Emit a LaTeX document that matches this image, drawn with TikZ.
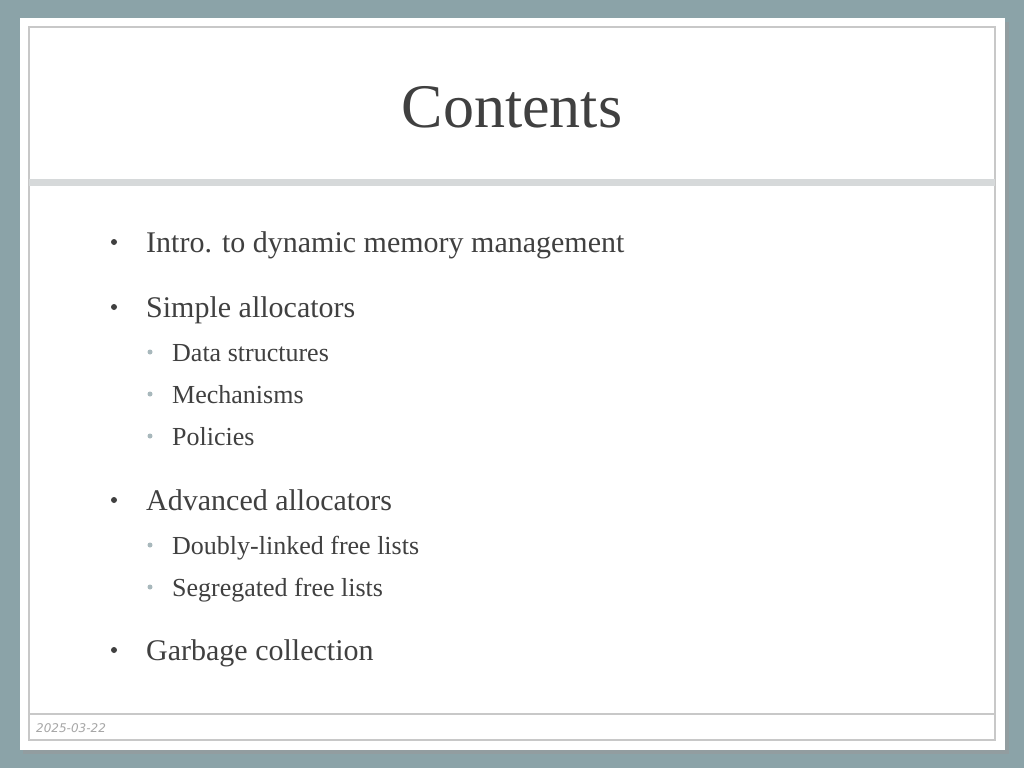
\documentclass[tikz,border=0pt]{standalone}
\usepackage{fontspec}
\setmainfont{Liberation Serif}
\newfontfamily\datefont{DejaVu Sans}
\definecolor{bg}{HTML}{8BA3A8}
\definecolor{txt}{HTML}{404040}
\definecolor{frame}{HTML}{C8C8C8}
\definecolor{band}{HTML}{D6D9DA}
\definecolor{subb}{HTML}{A8B8BC}
\tikzset{
 main/.style={anchor=base west,text=txt,font=\fontsize{30}{36}\selectfont,inner sep=0},
 sub/.style={anchor=base west,text=txt,font=\fontsize{26}{31}\selectfont,inner sep=0},
 dot/.style={circle,fill=txt,inner sep=0,minimum size=6pt},
 sdot/.style={circle,fill=subb,inner sep=0,minimum size=5pt}
}
\begin{document}
\begin{tikzpicture}[x=1pt,y=-1pt]
\fill[bg] (0,0) rectangle (1024,768);
\useasboundingbox (0,0) rectangle (1024,768);
\fill[black!40,opacity=0.5] (23,22) rectangle (1009,754);
\fill[white] (20,18) rectangle (1005,750);
\draw[frame,line width=1.2pt] (29,27) rectangle (995,740);
\fill[band] (29,179) rectangle (995,186);
\draw[frame,line width=1.2pt] (29,714) -- (995,714);
\node[text=txt,font=\fontsize{62}{70}\selectfont,anchor=base,inner sep=0] (title) at (512,127) {Contents};
\node[main] (a) at (146,252) {Intro. to dynamic memory management};
\node[dot] (ad) at (114,242) {};
\node[main] (b) at (146,317) {Simple allocators};
\node[dot] (bd) at (114,307) {};
\node[sub] (b1) at (172,361) {Data structures};
\node[sdot] (b1d) at (150,352) {};
\node[sub] (b2) at (172,403) {Mechanisms};
\node[sdot] (b2d) at (150,394) {};
\node[sub] (b3) at (172,445) {Policies};
\node[sdot] (b3d) at (150,436) {};
\node[main] (c) at (146,510) {Advanced allocators};
\node[dot] (cd) at (114,500) {};
\node[sub] (c1) at (172,554) {Doubly-linked free lists};
\node[sdot] (c1d) at (150,545) {};
\node[sub] (c2) at (172,596) {Segregated free lists};
\node[sdot] (c2d) at (150,587) {};
\node[main] (d) at (146,660) {Garbage collection};
\node[dot] (dd) at (114,650) {};
\node[anchor=base west,text=black!35,font=\datefont\itshape\fontsize{12}{14}\selectfont,inner sep=0] (date) at (36,732) {2025-03-22};
\end{tikzpicture}
\end{document}
